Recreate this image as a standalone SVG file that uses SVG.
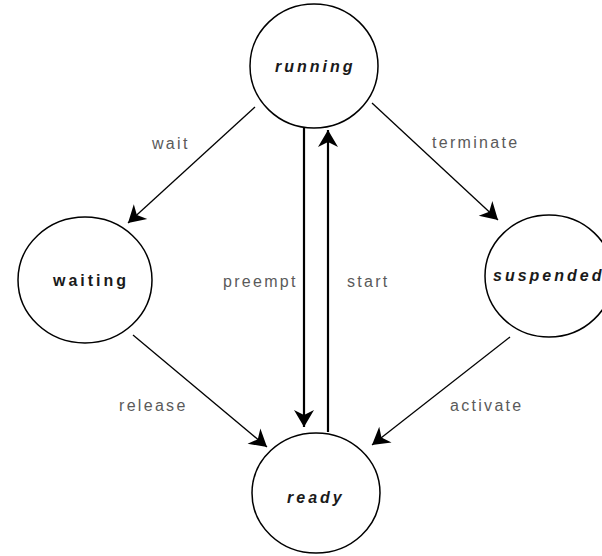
<svg xmlns="http://www.w3.org/2000/svg" width="602" height="556" viewBox="0 0 602 556">
  <style>
    .node { fill: #ffffff; stroke: #000000; stroke-width: 1.5; }
    .nlabel { font-family: "Liberation Sans", Arial, sans-serif; font-size: 16px; font-weight: bold; font-style: italic; letter-spacing: 3px; fill: #1a1a1a; }
    .plain { font-style: normal; }
    .edge { fill: none; stroke: #000000; stroke-width: 1.3; }
    .thick { stroke-width: 2.2; }
    .elabel { font-family: "Liberation Sans", Arial, sans-serif; font-size: 16px; letter-spacing: 2.3px; fill: #5a5a5a; }
  </style>
  <defs>
    <marker id="arrow" markerUnits="userSpaceOnUse" viewBox="-20 -12 22 24" refX="0" refY="0" markerWidth="22" markerHeight="24" orient="auto">
      <path d="M0,0 L-17,-10 L-12,0 L-17,10 Z" fill="#000000"/>
    </marker>
  </defs>
  <rect width="602" height="556" fill="#ffffff"/>

  <g id="edges">
    <line class="edge" x1="255" y1="107" x2="128" y2="223" marker-end="url(#arrow)"/>
    <line class="edge" x1="372" y1="103" x2="498" y2="220" marker-end="url(#arrow)"/>
    <line class="edge" x1="133" y1="335" x2="267" y2="447" marker-end="url(#arrow)"/>
    <line class="edge" x1="510" y1="337" x2="372" y2="445" marker-end="url(#arrow)"/>
    <line class="edge thick" x1="304" y1="128" x2="304" y2="427" marker-end="url(#arrow)"/>
    <line class="edge thick" x1="328" y1="432" x2="328" y2="130" marker-end="url(#arrow)"/>
    <text class="elabel" x="152" y="149">wait</text>
    <text class="elabel" x="432" y="148">terminate</text>
    <text class="elabel" x="223" y="287">preempt</text>
    <text class="elabel" x="347" y="287">start</text>
    <text class="elabel" x="119" y="411">release</text>
    <text class="elabel" x="450" y="411">activate</text>
  </g>

  <g id="running">
    <ellipse class="node" cx="314" cy="66" rx="64" ry="62"/>
    <text class="nlabel" x="275" y="72">running</text>
  </g>
  <g id="waiting">
    <ellipse class="node" cx="85" cy="280" rx="67" ry="63"/>
    <text class="nlabel plain" x="53" y="286">waiting</text>
  </g>
  <g id="suspended">
    <ellipse class="node" cx="549" cy="276" rx="64" ry="61"/>
    <text class="nlabel" x="493" y="281">suspended</text>
  </g>
  <g id="ready">
    <ellipse class="node" cx="316" cy="493" rx="64" ry="60"/>
    <text class="nlabel" x="287" y="503">ready</text>
  </g>
</svg>
